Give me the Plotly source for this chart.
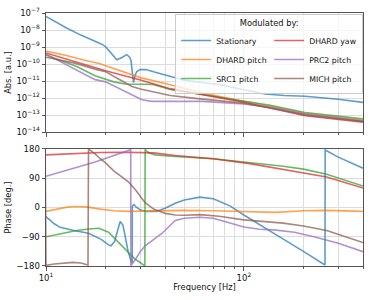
import plotly.graph_objects as go
from plotly.subplots import make_subplots

# ---------------- data ----------------
names = ["Stationary", "DHARD pitch", "SRC1 pitch", "DHARD yaw", "PRC2 pitch", "MICH pitch"]
colors = ["rgba(31,119,180,0.72)", "rgba(255,127,14,0.72)", "rgba(44,160,44,0.72)",
          "rgba(214,39,40,0.72)", "rgba(148,103,189,0.72)", "rgba(140,86,75,0.72)"]

# magnitude (log10 of abs value)
stat_abs_f = [10, 11.3, 12.7, 15, 17.7, 19, 20, 21.2, 22.8, 24.2, 25.6, 26.5, 26.9, 27.3, 27.7, 28.2,
              28.8, 29.9, 32, 36, 42.4, 50, 60, 76, 100, 128, 160, 204, 300, 400]
stat_abs = [-7.2, -7.55, -7.88, -8.3, -8.65, -8.82, -8.98, -9.3, -9.75, -9.62, -9.45, -9.6, -9.8,
            -10.5, -11.1, -10.65, -10.44, -10.33, -10.32, -10.5, -10.73, -10.95, -11.07, -11.22,
            -11.51, -11.76, -11.85, -11.9, -12.07, -12.26]
dhp_abs_f = [10, 12.7, 15.5, 18.8, 20, 25, 30, 42.4, 62, 100, 136, 204, 400]
dhp_abs = [-9.24, -9.5, -9.77, -9.98, -10.1, -10.5, -10.8, -11.22, -11.7, -12.2, -12.49, -12.92, -13.31]
src_abs_f = [10, 14.3, 17.7, 20, 22, 25.1, 30, 34.8, 42.4, 62, 100, 136, 204, 400]
src_abs = [-9.47, -10.15, -10.69, -10.9, -11.05, -11.18, -11.2, -11.2, -11.5, -11.8, -12.16, -12.43,
           -12.85, -13.23]
dhy_abs_f = [10, 17.7, 20, 30, 42.4, 100, 136, 204, 400]
dhy_abs = [-9.35, -10.22, -10.4, -10.94, -11.45, -12.25, -12.59, -13.04, -13.42]
prc_abs_f = [10, 17.7, 20, 23, 26, 30.5, 34.3, 45, 62, 100, 136, 204, 400]
prc_abs = [-9.42, -10.92, -11.05, -11.4, -11.7, -12.1, -12.2, -12.2, -12.2, -12.35, -12.55, -12.95, -13.35]
mich_abs_f = [10, 14, 17.7, 20, 23, 27.2, 30, 35, 42.4, 60, 100, 136, 204, 400]
mich_abs = [-9.6, -9.95, -10.3, -10.45, -10.85, -11.32, -11.47, -11.65, -11.85, -12.05, -12.3, -12.59,
            -13.0, -13.38]

# phase (deg)
stat_ph_f = [10, 11, 11.8, 13.8, 16.4, 17.7, 19, 20.7, 21.3, 22.2, 23.7, 24.5, 25.3, 26, 26.9, 27.25,
             27.3, 27.8, 28.5, 30, 32, 36, 40, 45, 50, 60, 70, 85, 100, 125, 153, 200, 257, 257.6,
             300, 400]
stat_ph = [-28, -50, -61, -71, -79, -88, -98, -115, -118, -105, -43, -55, -95, -135, -165, -170,
           4, 9, 2, -8, -12, -12, -2, 13, 23, 32, 27, 5, -23, -60, -92, -135, -177, 177, 155, 121]
dhp_ph_f = [10, 11.5, 12.8, 14, 16, 18.8, 22, 26, 35, 50, 70, 107, 145, 200, 262, 400]
dhp_ph = [-12, -4, 1, 3, 2, -5, -10, -12, -10, -9, -10, -12.5, -15, -10, -9, -12]
src_ph_f = [10, 12, 14.3, 16.5, 18.5, 20.7, 22.5, 24, 26, 28, 30, 31.6, 31.7, 33, 35.6, 45, 70, 107,
            158, 200, 262, 400]
src_ph = [-90, -80, -71, -66, -64, -76, -98, -118, -138, -157, -170, -180, 179, 168, 162, 157, 150,
          139, 127, 118, 102, 66]
dhy_ph_f = [10, 14, 18.8, 25, 35, 45, 70, 107, 158, 262, 400]
dhy_ph = [162, 166, 169, 170, 168, 160, 150, 135, 117, 94, 60]
prc_ph_f = [10, 17.7, 26.8, 26.85, 28.3, 30, 31.7, 35.6, 38.5, 45, 50, 60, 70, 85, 100, 120, 142, 180,
            226, 300, 400]
prc_ph = [96, 140, 178, -179, -160, -135, -118, -95, -80, -40, -33, -30, -33, -48, -60, -67, -69, -76,
          -90, -110, -136]
mich_ph_f = [9.9, 10, 11, 12.5, 13.7, 15, 16.3, 16.4, 17.7, 18.8, 20, 22, 26, 28.5, 31.7, 35, 40, 45,
             50, 60, 75, 100, 158, 200, 262, 400]
mich_ph = [178, -178, -174, -170, -169, -171, -177, 180, 165, 150, 137, 113, 80, 52, 15, -5, -18, -23,
           -24, -22, -27, -38, -48, -57, -71, -108]

abs_f = [stat_abs_f, dhp_abs_f, src_abs_f, dhy_abs_f, prc_abs_f, mich_abs_f]
abs_v = [stat_abs, dhp_abs, src_abs, dhy_abs, prc_abs, mich_abs]
ph_f = [stat_ph_f, dhp_ph_f, src_ph_f, dhy_ph_f, prc_ph_f, mich_ph_f]
ph_v = [stat_ph, dhp_ph, src_ph, dhy_ph, prc_ph, mich_ph]
# legend fills row by row: left column then right column
legend_rank = [1, 3, 5, 2, 4, 6]

x_major = [10, 100]
x_major_text = ["10<sup>1</sup>", "10<sup>2</sup>"]
x_minor = [20, 30, 40, 50, 60, 70, 80, 90, 200, 300, 400]
y_abs_ticks = [-14, -13, -12, -11, -10, -9, -8, -7]
y_ph_ticks = [-180, -90, 0, 90, 180]

# ---------------- figure ----------------
fig = make_subplots(rows=2, cols=1, shared_xaxes=True, vertical_spacing=0.067)

for i in range(6):
    fig.add_trace(go.Scatter(x=abs_f[i], y=[10 ** v for v in abs_v[i]], mode="lines", name=names[i],
                             line=dict(color=colors[i], width=1.6), legendrank=legend_rank[i]),
                  row=1, col=1)
    fig.add_trace(go.Scatter(x=ph_f[i], y=ph_v[i], mode="lines", name=names[i], showlegend=False,
                             line=dict(color=colors[i], width=1.6)), row=2, col=1)

FONT = "DejaVu Sans"
grid = "#dcdcdc"
axis_common = dict(showline=True, linecolor="#555", linewidth=1, mirror=True,
                   ticks="outside", ticklen=3.5, tickcolor="#555", showgrid=True,
                   gridcolor=grid, gridwidth=1, zeroline=False, automargin=False,
                   tickfont=dict(family=FONT, size=8.5, color="#111"))

xcommon = dict(type="log", range=[1, 2.60206], tickmode="array", tickvals=x_major,
               minor=dict(tickmode="array", tickvals=x_minor, ticks="outside", ticklen=2,
                          tickcolor="#555", showgrid=True, gridcolor=grid, gridwidth=1),
               **axis_common)
fig.update_xaxes(ticktext=["", ""], row=1, col=1, **xcommon)
fig.update_xaxes(ticktext=x_major_text, row=2, col=1,
                 title=dict(text="Frequency [Hz]", font=dict(family=FONT, size=8.3, color="#111"),
                            standoff=2), **xcommon)

fig.update_yaxes(type="log", range=[-14, -7], tickmode="array",
                 tickvals=[10 ** t for t in y_abs_ticks],
                 ticktext=["10<sup>\u2212%d</sup>" % (-t) for t in y_abs_ticks],
                 title=dict(text="Abs. [a.u.]", font=dict(family=FONT, size=8.3, color="#111"),
                            standoff=3), row=1, col=1, **axis_common)
fig.update_yaxes(range=[-180, 180], tickmode="array", tickvals=y_ph_ticks,
                 ticktext=["\u2212180", "\u221290", "0", "90", "180"],
                 title=dict(text="Phase [deg.]", font=dict(family=FONT, size=8.3, color="#111"),
                            standoff=3), row=2, col=1, **axis_common)

fig.update_layout(
    width=374, height=299,
    margin=dict(l=46, r=11, t=13, b=33, autoexpand=False),
    paper_bgcolor="white", plot_bgcolor="white",
    font=dict(family=FONT, size=8.3, color="#111"),
    legend=dict(orientation="h", x=1.0005, xanchor="right", y=0.995, yanchor="top",
                entrywidth=48, entrywidthmode="pixels",
                bgcolor="rgba(255,255,255,0.75)", bordercolor="#ccc", borderwidth=1,
                font=dict(family=FONT, size=7.8, color="#111"),
                title=dict(text="Modulated by:", side="top center",
                           font=dict(family=FONT, size=8.3, color="#111")),
                itemwidth=30, tracegroupgap=0),
)
fig.update_yaxes(domain=[0.5296, 1.0], row=1, col=1)
fig.update_yaxes(domain=[0.0, 0.4625], row=2, col=1)

fig.write_html("out.html", config={"displayModeBar": False},
               post_script="document.body.style.margin='0';document.body.style.overflow='hidden';")
